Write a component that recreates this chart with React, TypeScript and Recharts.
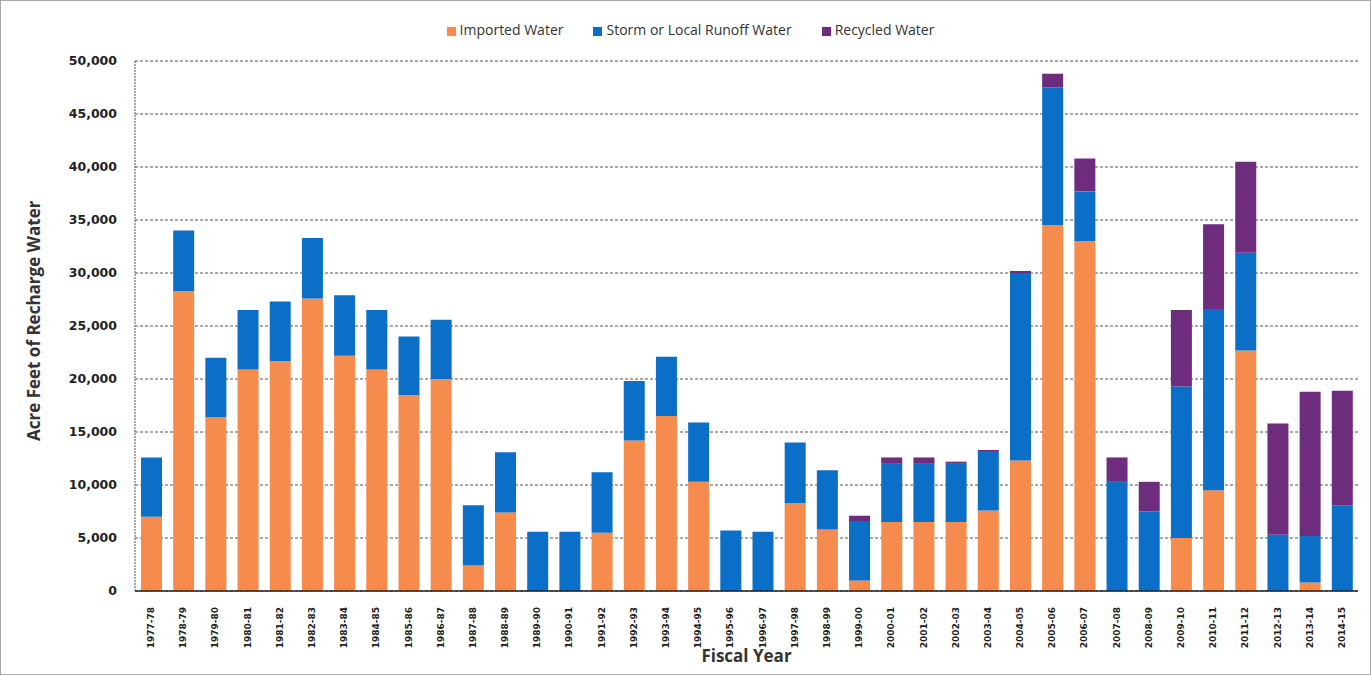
import { BarChart, Bar, XAxis, YAxis, CartesianGrid, Legend } from 'recharts'

const years = [
  '1977-78', '1978-79', '1979-80', '1980-81', '1981-82', '1982-83', '1983-84', '1984-85',
  '1985-86', '1986-87', '1987-88', '1988-89', '1989-90', '1990-91', '1991-92', '1992-93',
  '1993-94', '1994-95', '1995-96', '1996-97', '1997-98', '1998-99', '1999-00', '2000-01',
  '2001-02', '2002-03', '2003-04', '2004-05', '2005-06', '2006-07', '2007-08', '2008-09',
  '2009-10', '2010-11', '2011-12', '2012-13', '2013-14', '2014-15',
]

const imported = [
  7000, 28300, 16400, 20900, 21700, 27600, 22200, 20900, 18500, 20000, 2400, 7400, 0, 0,
  5500, 14200, 16500, 10300, 0, 0, 8300, 5800, 1000, 6500, 6500, 6500, 7600, 12300, 34500,
  33000, 0, 0, 5000, 9500, 22700, 0, 800, 0,
]

const storm = [
  5600, 5700, 5600, 5600, 5600, 5700, 5700, 5600, 5500, 5600, 5700, 5700, 5600, 5600,
  5700, 5600, 5600, 5600, 5700, 5600, 5700, 5600, 5600, 5500, 5500, 5500, 5600, 17700,
  13000, 4700, 10300, 7500, 14300, 17100, 9200, 5300, 4400, 8100,
]

const recycled = [
  0, 0, 0, 0, 0, 0, 0, 0, 0, 0, 0, 0, 0, 0, 0, 0, 0, 0, 0, 0, 0, 0, 500, 600, 600, 200,
  100, 200, 1300, 3100, 2300, 2800, 7200, 8000, 8600, 10500, 13600, 10800,
]

const yTicks = [0, 5000, 10000, 15000, 20000, 25000, 30000, 35000, 40000, 45000, 50000]

const seriesOrder = ['Imported Water', 'Storm or Local Runoff Water', 'Recycled Water']

const data = years.map((year, i) => ({
  year,
  imported: imported[i],
  storm: storm[i],
  recycled: recycled[i],
}))

const axisFont = '"DejaVu Sans", Verdana, sans-serif'
const labelFont = '"Open Sans", Lato, sans-serif'

function YearTick({ x, y, payload }: any) {
  return (
    <text
      x={x}
      y={y}
      transform={`rotate(-90, ${x}, ${y})`}
      dx={-8}
      dy={3}
      textAnchor="end"
      fontFamily={axisFont}
      fontWeight="bold"
      fontSize={9}
      fill="#222"
    >
      {payload.value}
    </text>
  )
}

export default function App() {
  return (
    <div
      style={{
        position: 'absolute',
        left: 0,
        top: 0,
        width: 1369,
        height: 673,
        background: '#fff',
        border: '1px solid #aaa',
      }}
    >
      <BarChart
        width={1369}
        height={673}
        data={data}
        margin={{ top: 60, right: 12, left: 0, bottom: 0 }}
        barSize={21}
      >
        <CartesianGrid vertical={false} stroke="#555" strokeDasharray="3 2" />
        <XAxis
          dataKey="year"
          height={83}
          interval={0}
          tick={<YearTick />}
          tickLine={false}
          axisLine={{ stroke: '#222', strokeWidth: 1.5 }}
          label={{
            value: 'Fiscal Year',
            position: 'insideBottom',
            offset: 12,
            style: { fontFamily: labelFont, fontWeight: 'bold', fontSize: 17, fill: '#333' },
          }}
        />
        <YAxis
          width={134}
          domain={[0, 50000]}
          ticks={yTicks}
          tickFormatter={(v: number) => v.toLocaleString('en-US')}
          tick={{ fontFamily: axisFont, fontWeight: 'bold', fontSize: 12.5, fill: '#222' }}
          tickLine={false}
          tickMargin={12}
          axisLine={{ stroke: '#555', strokeDasharray: '2 1' }}
          label={{
            value: 'Acre Feet of Recharge Water',
            angle: -90,
            position: 'insideLeft',
            offset: 33,
            dy: 115,
            style: { fontFamily: labelFont, fontWeight: 'bold', fontSize: 17, fill: '#333' },
          }}
        />
        <YAxis
          yAxisId="right"
          orientation="right"
          width={0}
          domain={[0, 50000]}
          tick={false}
          tickLine={false}
          axisLine={{ stroke: '#555', strokeDasharray: '2 1' }}
        />
        <Legend
          verticalAlign="middle"
          align="center"
          layout="horizontal"
          iconType="square"
          iconSize={9}
          itemSorter={(item: any) => seriesOrder.indexOf(item.value)}
          wrapperStyle={{ top: 19, paddingLeft: 16, fontFamily: labelFont, fontSize: 14 }}
          formatter={(value: string) => (
            <span style={{ color: '#333', marginRight: value === 'Recycled Water' ? 0 : 20 }}>{value}</span>
          )}
        />
        <Bar dataKey="imported" name="Imported Water" stackId="a" fill="#F58B4C" isAnimationActive={false} />
        <Bar dataKey="storm" name="Storm or Local Runoff Water" stackId="a" fill="#0B6FC8" isAnimationActive={false} />
        <Bar dataKey="recycled" name="Recycled Water" stackId="a" fill="#6E2C7C" isAnimationActive={false} />
      </BarChart>
    </div>
  )
}
